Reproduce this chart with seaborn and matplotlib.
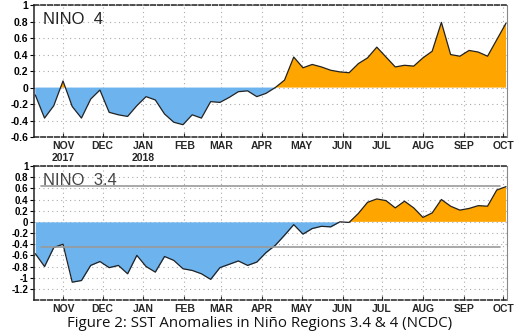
import numpy as np
import pandas as pd
import matplotlib
matplotlib.use("Agg")
import matplotlib.pyplot as plt
import matplotlib.dates as mdates
import seaborn as sns

start_date = "2017-10-11"
n_weeks = 52

nino4 = [-0.09, -0.37, -0.22, 0.08, -0.23, -0.37, -0.14, -0.03, -0.30, -0.33,
         -0.35, -0.22, -0.11, -0.15, -0.32, -0.42, -0.45, -0.33, -0.37, -0.17,
         -0.18, -0.12, -0.05, -0.04, -0.11, -0.07, 0.00, 0.09, 0.37, 0.24,
         0.28, 0.25, 0.21, 0.19, 0.18, 0.29, 0.36, 0.49, 0.37, 0.25,
         0.27, 0.26, 0.36, 0.44, 0.79, 0.40, 0.38, 0.45, 0.43, 0.38,
         0.58, 0.78]

nino34 = [-0.57, -0.80, -0.46, -0.40, -1.08, -1.05, -0.78, -0.71, -0.82, -0.78,
          -0.93, -0.60, -0.80, -0.90, -0.62, -0.69, -0.84, -0.87, -0.93, -1.03,
          -0.82, -0.76, -0.70, -0.78, -0.72, -0.55, -0.42, -0.24, -0.05, -0.22,
          -0.12, -0.08, -0.09, 0.00, -0.01, 0.15, 0.35, 0.41, 0.38, 0.25,
          0.37, 0.25, 0.08, 0.16, 0.40, 0.28, 0.21, 0.24, 0.29, 0.28,
          0.57, 0.63]

month_labels = ["NOV\n2017", "DEC", "JAN\n2018", "FEB", "MAR", "APR",
                "MAY", "JUN", "JUL", "AUG", "SEP", "OCT"]
month_labels_bottom = ["NOV", "DEC", "JAN", "FEB", "MAR", "APR",
                       "MAY", "JUN", "JUL", "AUG", "SEP", "OCT"]
month_starts = pd.date_range("2017-11-01", "2018-10-01", freq="MS")

top_yticks = [-0.6, -0.4, -0.2, 0, 0.2, 0.4, 0.6, 0.8, 1]
top_ytick_labels = ["-0.6", "-0.4", "-0.2", "0", "0.2", "0.4", "0.6", "0.8", "1"]
bot_yticks = [-1.2, -1, -0.8, -0.6, -0.4, -0.2, 0, 0.2, 0.4, 0.6, 0.8, 1]
bot_ytick_labels = ["-1.2", "-1", "-0.8", "-0.6", "-0.4", "-0.2", "0", "0.2",
                    "0.4", "0.6", "0.8", "1"]
ref_lines_34 = [0.65, -0.45]

dates = pd.date_range(start_date, periods=n_weeks, freq="7D")
df = pd.DataFrame({"date": dates, "nino4": nino4, "nino34": nino34})

sns.set_style("white")
plt.rcParams["font.family"] = ["Liberation Sans", "DejaVu Sans"]

BLUE = "#6db3ee"
ORANGE = "#ffa500"

fig = plt.figure(figsize=(5.19, 3.36), dpi=100)
ax1 = fig.add_axes([0.0655, 0.592, 0.912, 0.393])
ax2 = fig.add_axes([0.0655, 0.107, 0.912, 0.399])


def draw(ax, col, ylim, yticks, ylabels, xlabels, title, title_color, ylsize):
    y = df[col].values
    ax.fill_between(df["date"], y, 0, where=y >= 0, interpolate=True,
                    color=ORANGE, lw=0, zorder=2)
    ax.fill_between(df["date"], y, 0, where=y <= 0, interpolate=True,
                    color=BLUE, lw=0, zorder=2)
    sns.lineplot(data=df, x="date", y=col, ax=ax, color="#222222", lw=0.9,
                 zorder=3)
    ax.set_ylim(*ylim)
    ax.set_xlim(df["date"].iloc[0] - pd.Timedelta(days=1),
                df["date"].iloc[-1] + pd.Timedelta(days=1))
    ax.set_yticks(yticks)
    ax.set_yticklabels(ylabels)
    ax.set_xticks(month_starts)
    ax.set_xticklabels(xlabels)
    ax.set_xlabel("")
    ax.set_ylabel("")
    ax.grid(True, color="#aaaaaa", linestyle=(0, (1, 3)), lw=0.8)
    ax.set_axisbelow(True)
    for lab in ax.get_xticklabels() + ax.get_yticklabels():
        lab.set_fontweight("bold")
    ax.tick_params(axis="y", labelsize=ylsize, length=3, width=0.8, pad=1,
                   direction="out", left=True, colors="black")
    ax.tick_params(axis="x", labelsize=7.5, length=3, width=0.8, pad=3,
                   direction="in", bottom=True)
    for s in ["top", "bottom"]:
        ax.spines[s].set_linestyle((0, (3, 1.5)))
        ax.spines[s].set_color("#222222")
        ax.spines[s].set_linewidth(1.1)
    ax.spines["left"].set_color("#222222")
    ax.spines["left"].set_linewidth(1.1)
    ax.spines["right"].set_color("#888888")
    ax.spines["right"].set_linewidth(0.8)
    ax.text(0.02, 0.95, title, transform=ax.transAxes, ha="left", va="top",
            fontsize=12, color=title_color, zorder=5)


draw(ax1, "nino4", (-0.6, 1.0), top_yticks, top_ytick_labels, month_labels,
     "NINO  4", "#222222", 7.5)
draw(ax2, "nino34", (-1.4, 1.0), bot_yticks, bot_ytick_labels,
     month_labels_bottom, "NINO  3.4", "#444444", 7)

for v in ref_lines_34:
    ax2.axhline(v, xmin=0.015, xmax=0.985, color="#999999", lw=1.2, zorder=4)

fig.text(0.50, 0.037, "Figure 2: SST Anomalies in Niño Regions 3.4 & 4 (NCDC)",
         ha="center", va="center", fontsize=10.8,
         family=["Open Sans", "DejaVu Sans"], color="#111111")

fig.savefig("out.png", dpi=100)
